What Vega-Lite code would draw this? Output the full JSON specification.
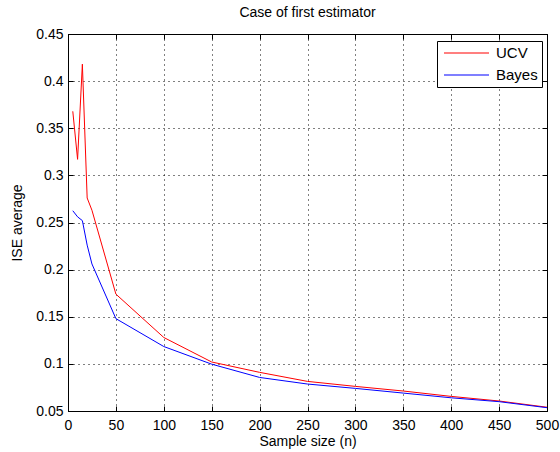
{
  "$schema": "https://vega.github.io/schema/vega-lite/v6.json",
  "autosize": {"type": "none"},
  "width": 479,
  "height": 377,
  "padding": {"left": 68, "top": 34, "right": 13, "bottom": 41},
  "background": "white",
  "title": {"text": "Case of first estimator", "font": "Liberation Sans", "fontSize": 14, "fontWeight": "normal", "color": "black", "offset": 7},
  "config": {
    "view": {"stroke": "black", "strokeWidth": 1},
    "axis": {
      "labelFont": "Liberation Sans", "labelFontSize": 14, "labelColor": "black",
      "titleFont": "Liberation Sans", "titleFontSize": 14, "titleFontWeight": "normal", "titleColor": "black",
      "domainColor": "black", "tickColor": "black", "tickSize": -5,
      "labelFlush": false, "labelOverlap": false,
      "gridColor": "black", "gridDash": [1, 4], "gridOpacity": 1, "gridWidth": 1
    }
  },
  "data": {"values": [
    {"n": 5, "ise": 0.368, "method": "UCV"},
    {"n": 10, "ise": 0.317, "method": "UCV"},
    {"n": 15, "ise": 0.418, "method": "UCV"},
    {"n": 20, "ise": 0.276, "method": "UCV"},
    {"n": 25, "ise": 0.263, "method": "UCV"},
    {"n": 50, "ise": 0.174, "method": "UCV"},
    {"n": 100, "ise": 0.128, "method": "UCV"},
    {"n": 150, "ise": 0.102, "method": "UCV"},
    {"n": 200, "ise": 0.091, "method": "UCV"},
    {"n": 250, "ise": 0.0814, "method": "UCV"},
    {"n": 300, "ise": 0.0761, "method": "UCV"},
    {"n": 350, "ise": 0.0712, "method": "UCV"},
    {"n": 400, "ise": 0.0655, "method": "UCV"},
    {"n": 450, "ise": 0.0606, "method": "UCV"},
    {"n": 500, "ise": 0.054, "method": "UCV"},
    {"n": 5, "ise": 0.2625, "method": "Bayes"},
    {"n": 10, "ise": 0.256, "method": "Bayes"},
    {"n": 15, "ise": 0.252, "method": "Bayes"},
    {"n": 20, "ise": 0.226, "method": "Bayes"},
    {"n": 25, "ise": 0.206, "method": "Bayes"},
    {"n": 50, "ise": 0.148, "method": "Bayes"},
    {"n": 100, "ise": 0.1184, "method": "Bayes"},
    {"n": 150, "ise": 0.0997, "method": "Bayes"},
    {"n": 200, "ise": 0.0856, "method": "Bayes"},
    {"n": 250, "ise": 0.0786, "method": "Bayes"},
    {"n": 300, "ise": 0.074, "method": "Bayes"},
    {"n": 350, "ise": 0.069, "method": "Bayes"},
    {"n": 400, "ise": 0.064, "method": "Bayes"},
    {"n": 450, "ise": 0.0599, "method": "Bayes"},
    {"n": 500, "ise": 0.0535, "method": "Bayes"}
  ]},
  "layer": [
    {
      "mark": {"type": "line", "strokeWidth": 1},
      "encoding": {
        "x": {"field": "n", "type": "quantitative", "scale": {"domain": [0, 500], "nice": false},
              "axis": {"title": "Sample size (n)", "format": "d", "values": [0,50,100,150,200,250,300,350,400,450,500], "labelPadding": 12, "titlePadding": 2}},
        "y": {"field": "ise", "type": "quantitative", "scale": {"domain": [0.05, 0.45], "nice": false, "zero": false},
              "axis": {"title": "ISE average", "format": "~g", "values": [0.05,0.1,0.15,0.2,0.25,0.3,0.35,0.4,0.45], "labelPadding": 10, "titlePadding": 11}},
        "color": {"field": "method", "type": "nominal",
                  "scale": {"domain": ["UCV", "Bayes"], "range": ["#ff0000", "#0000ff"]},
                  "legend": {"title": null, "orient": "none", "legendX": 369, "legendY": 7,
                             "strokeColor": "black", "fillColor": "white", "padding": 4,
                             "symbolType": "stroke", "symbolSize": 2025, "symbolStrokeWidth": 1.2,
                             "clipHeight": 16, "symbolOffset": 2,
                             "labelFont": "Liberation Sans", "labelFontSize": 15, "labelColor": "black",
                             "rowPadding": 6, "labelOffset": 6}},
        "order": {"field": "n", "type": "quantitative"}
      }
    },
    {
      "mark": {"type": "line", "opacity": 0},
      "encoding": {
        "x": {"field": "n", "type": "quantitative", "scale": {"domain": [0, 500], "nice": false},
              "axis": {"orient": "top", "title": null, "labels": false, "grid": false, "values": [0,50,100,150,200,250,300,350,400,450,500]}},
        "y": {"field": "ise", "type": "quantitative", "scale": {"domain": [0.05, 0.45], "nice": false, "zero": false},
              "axis": {"orient": "right", "title": null, "labels": false, "grid": false, "values": [0.05,0.1,0.15,0.2,0.25,0.3,0.35,0.4,0.45]}},
        "detail": {"field": "method"}
      }
    }
  ],
  "resolve": {"axis": {"x": "independent", "y": "independent"}}
}
